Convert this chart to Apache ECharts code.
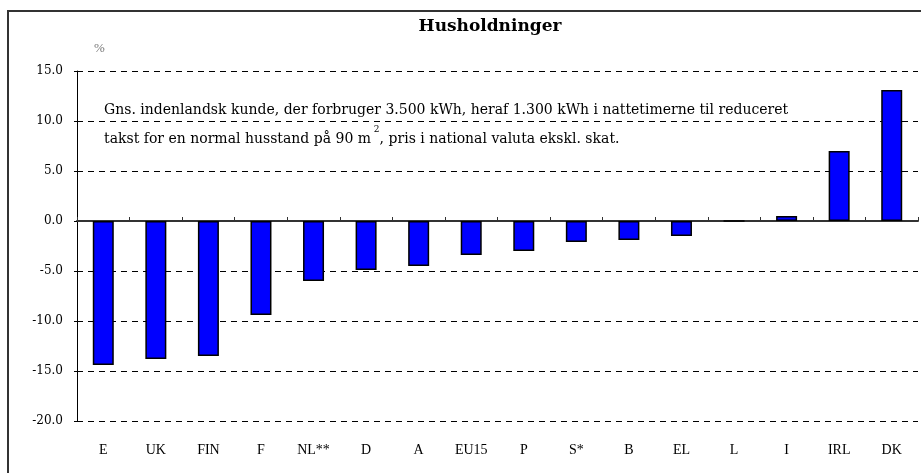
<!DOCTYPE html>
<html>
<head>
<meta charset="utf-8">
<script src="https://cdn.jsdelivr.net/npm/echarts@6/dist/echarts.min.js"></script>
<style>
  html, body { margin: 0; padding: 0; background: #fff; }
  #chart { width: 921px; height: 473px; }
</style>
</head>
<body>
<div id="chart"></div>
<script>
// lande sorteret efter prisændring
var categories = ["E", "UK", "FIN", "F", "NL**", "D", "A", "EU15", "P", "S*", "B", "EL", "L", "I", "IRL", "DK"];
var values = [-14.4, -13.8, -13.5, -9.4, -6.0, -4.9, -4.5, -3.4, -3.0, -2.1, -1.9, -1.5, 0, 0.5, 7.0, 13.1];
var yTicks = { min: -20, max: 15, interval: 5 };

var serif = "'Liberation Serif', 'DejaVu Serif', serif";
var wide = "'DejaVu Serif', 'Liberation Serif', serif";
var myChart = echarts.init(document.getElementById("chart"));

var option = {
    backgroundColor: "#fff",
    animation: false,
    grid: { left: 77, top: 71, right: 3, bottom: 52, containLabel: false },
    graphic: [
        {
            // ramme
            type: "polyline",
            shape: { points: [[8, 480], [8, 11], [930, 11]] },
            style: { stroke: "#333", lineWidth: 2, fill: null },
            silent: true
        },
        {
            type: "text",
            x: 490,
            y: 27,
            style: {
                text: "Husholdninger",
                fontFamily: wide, fontSize: 17, fontWeight: "bold", fill: "#000",
                align: "center", verticalAlign: "middle"
            }
        },
        {
            type: "text",
            left: 94,
            top: 42,
            style: { text: "%", fontFamily: serif, fontSize: 13, fill: "#777" }
        },
        {
            type: "text",
            left: 104,
            top: 96,
            style: {
                text: "Gns. indenlandsk kunde, der forbruger 3.500 kWh, heraf 1.300 kWh i nattetimerne til reduceret\n" +
                      "takst for en normal husstand på 90 m{sup| 2}, pris i national valuta ekskl. skat.",
                fontFamily: wide,
                fontSize: 14,
                lineHeight: 29,
                fill: "#000",
                rich: {
                    sup: { fontFamily: wide, fontSize: 9, verticalAlign: "top", padding: [0, 0, 10, 0] }
                }
            }
        }
    ],
    xAxis: [
        {
            type: "category",
            data: categories,
            position: "bottom",
            axisLine: { show: false, onZero: false },
            axisTick: { show: false },
            splitLine: { show: false },
            axisLabel: { margin: 22, fontFamily: serif, fontSize: 14, color: "#000" }
        },
        {
            type: "category",
            data: categories,
            position: "bottom",
            axisLine: { show: true, onZero: true, lineStyle: { color: "#333", width: 2 } },
            axisTick: { show: true, inside: true, length: 4, lineStyle: { color: "#333" } },
            axisLabel: { show: false },
            splitLine: { show: false }
        }
    ],
    yAxis: {
        type: "value",
        min: yTicks.min,
        max: yTicks.max,
        interval: yTicks.interval,
        axisLine: { show: true, lineStyle: { color: "#000", width: 1 } },
        axisTick: { show: true, length: 3, lineStyle: { color: "#000" } },
        axisLabel: {
            margin: 14,
            fontFamily: wide,
            fontSize: 12,
            color: "#000",
            formatter: function (v) { return v.toFixed(1); }
        },
        splitLine: { show: true, lineStyle: { color: "#000", type: [6, 5], width: 1 } }
    },
    series: [
        {
            type: "bar",
            xAxisIndex: 0,
            data: values,
            barWidth: 21,
            itemStyle: { color: "#0000ff", borderColor: "#000", borderWidth: 1.5 },
            z: 1
        }
    ]
};

myChart.setOption(option);
</script>
</body>
</html>
